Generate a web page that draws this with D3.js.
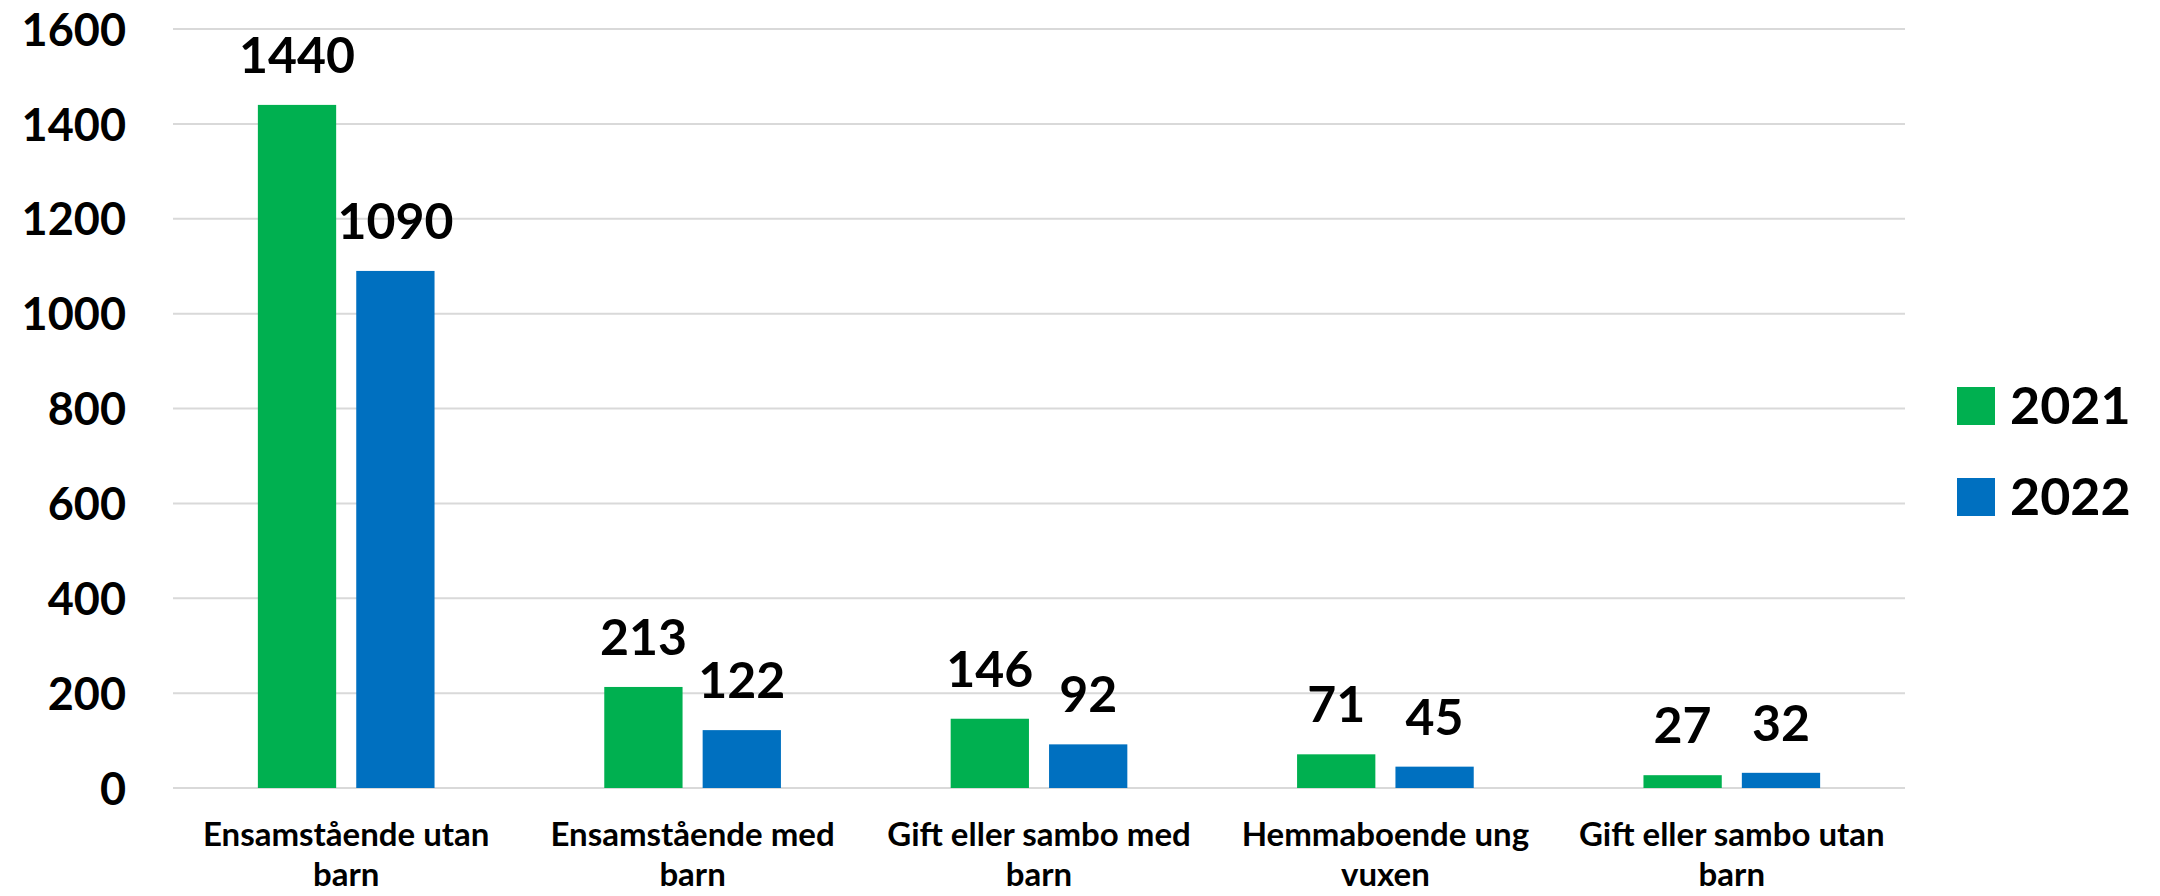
<!DOCTYPE html>
<html>
<head>
<meta charset="utf-8">
<script src="https://cdn.jsdelivr.net/npm/d3@7"></script>
<style>
  html, body { margin: 0; padding: 0; background: #fff; }
  svg { display: block; }
  text { font-family: Lato, "Open Sans", sans-serif; font-weight: 700; fill: #000; }
</style>
</head>
<body>
<svg id="chart" width="2160" height="896"></svg>
<script>
const categories = [
  "Ensamstående utan\nbarn",
  "Ensamstående med\nbarn",
  "Gift eller sambo med\nbarn",
  "Hemmaboende ung\nvuxen",
  "Gift eller sambo utan\nbarn"
];
const seriesNames = ["2021", "2022"];
const values2021 = [1440, 213, 146, 71, 27];
const values2022 = [1090, 122, 92, 45, 32];
const yTicks = [0, 200, 400, 600, 800, 1000, 1200, 1400, 1600];
const colors = ["#00B050", "#0070C0"];

const svg = d3.select("#chart");
const plot = { left: 173, right: 1905, top: 29, bottom: 788 };

const x = d3.scaleBand().domain(categories).range([plot.left, plot.right]).padding(0);
const y = d3.scaleLinear().domain([0, 1600]).range([plot.bottom, plot.top]);

const bw = x.bandwidth() * 0.226;
const gap = x.bandwidth() * 0.058;
const sub = d3.scaleOrdinal().domain(seriesNames).range([-gap / 2 - bw, gap / 2]);

// gridlines
svg.append("g").selectAll("line").data(yTicks).join("line")
  .attr("x1", plot.left).attr("x2", plot.right)
  .attr("y1", d => y(d)).attr("y2", d => y(d))
  .attr("stroke", "#D9D9D9").attr("stroke-width", 2);

// y axis labels
const yAxis = d3.axisLeft(y).tickValues(yTicks).tickFormat(d3.format("d")).tickSize(0).tickPadding(0);
const yg = svg.append("g").attr("transform", `translate(126,0)`).call(yAxis);
yg.select(".domain").remove();
yg.selectAll("text").attr("font-size", 45).attr("font-family", "Lato").attr("font-weight", 900)
  .attr("fill", "#000").attr("dy", "0.36em");

const data = categories.map((c, i) => ({ c, vals: [values2021[i], values2022[i]] }));

const groups = svg.append("g").selectAll("g").data(data).join("g")
  .attr("transform", d => `translate(${x(d.c) + x.bandwidth() / 2},0)`);

groups.selectAll("rect").data(d => d.vals.map((v, j) => ({ v, s: seriesNames[j], j })))
  .join("rect")
  .attr("x", d => sub(d.s))
  .attr("width", bw)
  .attr("y", d => y(d.v))
  .attr("height", d => y(0) - y(d.v))
  .attr("fill", d => colors[d.j]);

groups.selectAll("text.val").data(d => d.vals.map((v, j) => ({ v, s: seriesNames[j], j })))
  .join("text").attr("class", "val")
  .attr("x", d => sub(d.s) + bw / 2)
  .attr("y", d => y(d.v) - 32)
  .attr("text-anchor", "middle")
  .attr("font-size", 50)
  .attr("font-weight", 900)
  .text(d => d.v);

// x axis labels
const xl = svg.append("g").selectAll("text").data(categories).join("text")
  .attr("x", d => x(d) + x.bandwidth() / 2)
  .attr("y", 846)
  .attr("text-anchor", "middle")
  .attr("font-size", 33);
xl.each(function (d) {
  const lines = d.split("\n");
  const t = d3.select(this);
  lines.forEach((ln, i) => {
    t.append("tspan").attr("x", x(d) + x.bandwidth() / 2).attr("dy", i === 0 ? 0 : 40).text(ln);
  });
});

// legend
const legend = svg.append("g").selectAll("g").data(seriesNames).join("g")
  .attr("transform", (d, i) => `translate(1957,${387 + i * 91})`);
legend.append("rect").attr("width", 38).attr("height", 38).attr("fill", (d, i) => colors[i]);
legend.append("text").attr("x", 53).attr("y", 37).attr("font-size", 52).attr("font-weight", 900).text(d => d);
</script>
</body>
</html>
